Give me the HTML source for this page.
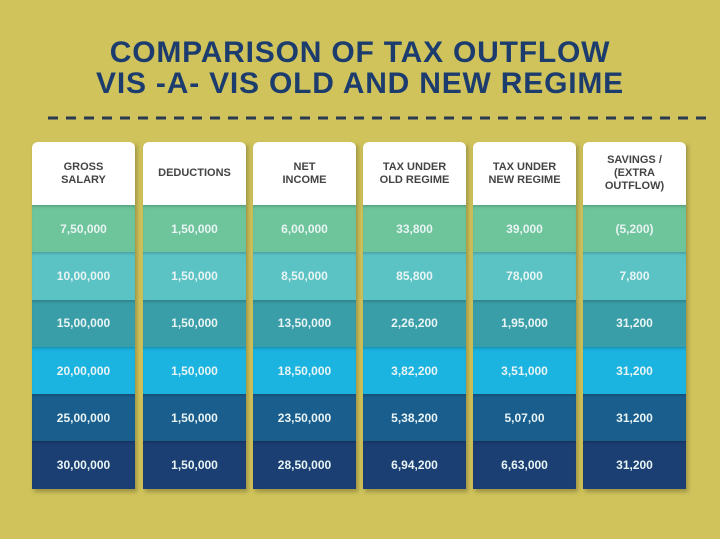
<!DOCTYPE html>
<html><head><style>
body{margin:0;width:720px;height:539px;background:#d0c35b;font-family:"Liberation Sans",sans-serif;overflow:hidden;position:relative}
.t{position:absolute;left:0;width:720px;text-align:center;color:#1d3c6e;font-weight:bold;font-size:30px;letter-spacing:0.8px}
.dash{position:absolute;left:48px;top:115px}
.col{position:absolute;top:142px;width:103px;box-shadow:2px 3px 4px rgba(0,0,0,0.25)}
.h{height:63px;background:#fff;border-radius:6px 6px 0 0;display:flex;align-items:center;justify-content:center;text-align:center;font-weight:bold;font-size:11px;color:#444;line-height:13px}
.c{height:47.3px;display:flex;align-items:center;justify-content:center;color:#e8f4f4;font-size:12px;font-weight:bold;box-shadow:inset 0 3px 3px -2px rgba(0,0,0,0.25)}
.r1{background:#6ec49b}.r2{background:#5cc3c5}.r3{background:#3a9ea8}.r4{background:#1bb3e0}.r5{background:#1a5e8e}.r6{background:#1b3f73}
</style></head><body>
<div class="t" style="top:36px">COMPARISON OF TAX OUTFLOW</div>
<div class="t" style="top:67px">VIS -A- VIS OLD AND NEW REGIME</div>
<svg class="dash" width="660" height="6"><line x1="0" y1="3" x2="660" y2="3" stroke="#2a3a55" stroke-width="3" stroke-dasharray="10,8"/></svg>
<div class="col" style="left:32px"><div class="h">GROSS<br>SALARY</div><div class="c r1">7,50,000</div><div class="c r2">10,00,000</div><div class="c r3">15,00,000</div><div class="c r4">20,00,000</div><div class="c r5">25,00,000</div><div class="c r6">30,00,000</div></div>
<div class="col" style="left:143px"><div class="h">DEDUCTIONS</div><div class="c r1">1,50,000</div><div class="c r2">1,50,000</div><div class="c r3">1,50,000</div><div class="c r4">1,50,000</div><div class="c r5">1,50,000</div><div class="c r6">1,50,000</div></div>
<div class="col" style="left:253px"><div class="h">NET<br>INCOME</div><div class="c r1">6,00,000</div><div class="c r2">8,50,000</div><div class="c r3">13,50,000</div><div class="c r4">18,50,000</div><div class="c r5">23,50,000</div><div class="c r6">28,50,000</div></div>
<div class="col" style="left:363px"><div class="h">TAX UNDER<br>OLD REGIME</div><div class="c r1">33,800</div><div class="c r2">85,800</div><div class="c r3">2,26,200</div><div class="c r4">3,82,200</div><div class="c r5">5,38,200</div><div class="c r6">6,94,200</div></div>
<div class="col" style="left:473px"><div class="h">TAX UNDER<br>NEW REGIME</div><div class="c r1">39,000</div><div class="c r2">78,000</div><div class="c r3">1,95,000</div><div class="c r4">3,51,000</div><div class="c r5">5,07,00</div><div class="c r6">6,63,000</div></div>
<div class="col" style="left:583px"><div class="h">SAVINGS /<br>(EXTRA<br>OUTFLOW)</div><div class="c r1">(5,200)</div><div class="c r2">7,800</div><div class="c r3">31,200</div><div class="c r4">31,200</div><div class="c r5">31,200</div><div class="c r6">31,200</div></div>
</body></html>
